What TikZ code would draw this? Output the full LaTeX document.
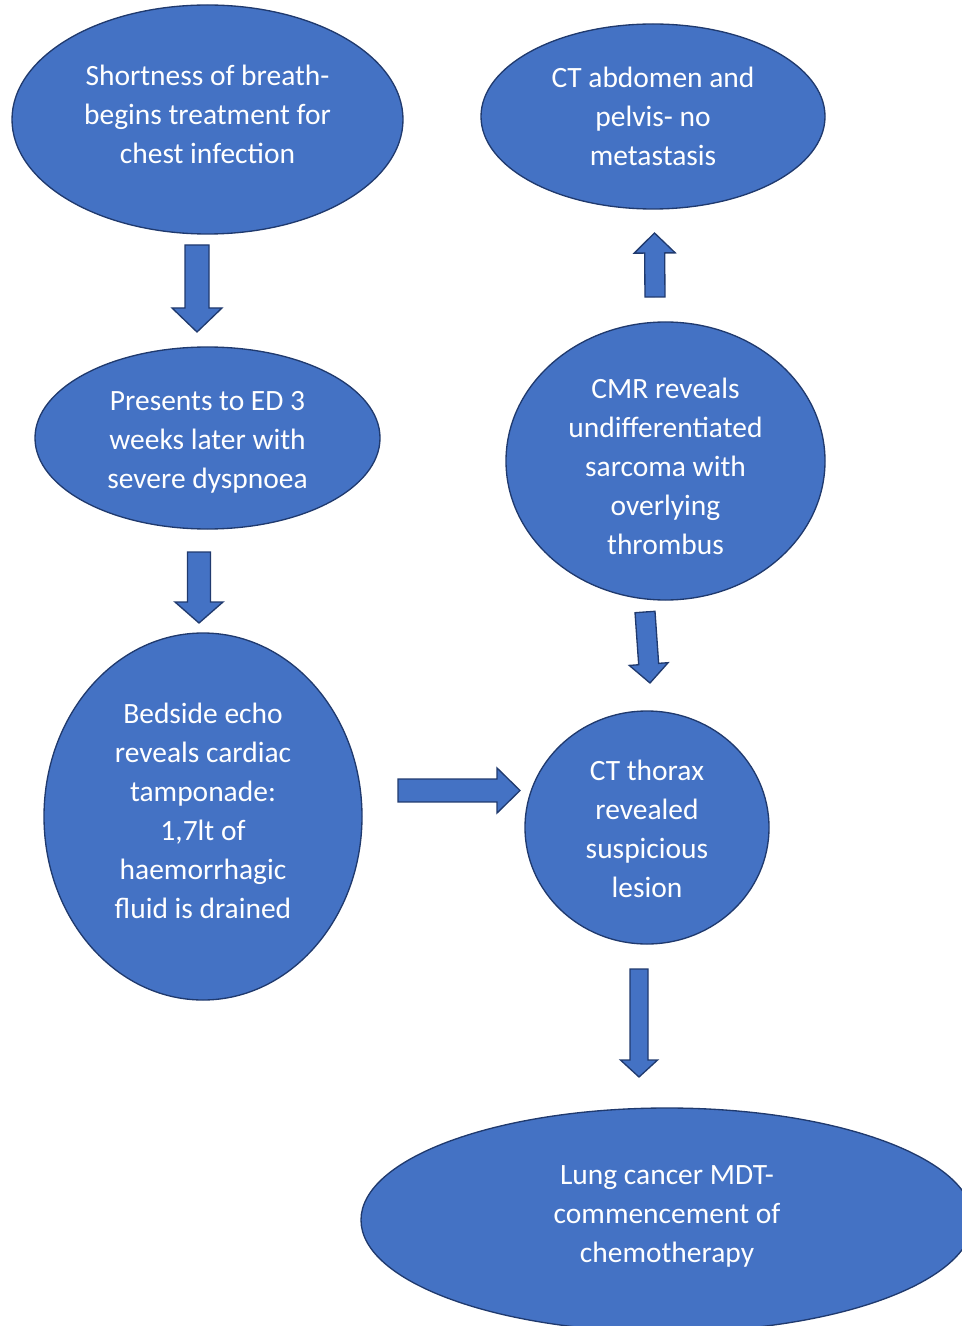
\documentclass[tikz,border=0pt]{standalone}
\usepackage{fontspec}
\setmainfont{Carlito}
\usetikzlibrary{shapes.geometric}
\usetikzlibrary{calc}

\definecolor{boxblue}{HTML}{4472C4}
\definecolor{boxline}{HTML}{203A6E}

\tikzset{
  step box/.style={draw=boxline, fill=boxblue, ellipse, line width=1pt, inner sep=0pt},
  step text/.style={text=white, align=center, inner sep=0pt,
    font=\fontsize{22.1}{29.25}\selectfont},
  arrowbox/.style={draw=boxline, fill=boxblue, line width=1pt, line join=miter}
}

% block arrow: from, to, shaft half width, head half width, head length
\newcommand{\flowarrow}[5]{%
  \coordinate (hb) at ($(#2)!#5!(#1)$);
  \filldraw[arrowbox] ($(#1)!#3!90:(#2)$) -- ($(hb)!#3!90:(#2)$) -- ($(hb)!#4!90:(#2)$)
    -- (#2) -- ($(hb)!#4!-90:(#2)$) -- ($(hb)!#3!-90:(#2)$) -- ($(#1)!#3!-90:(#2)$) -- cycle;
}

\begin{document}
\begin{tikzpicture}[x=0.75pt, y=-0.75pt]

        \useasboundingbox (0,0) rectangle (962,1326);

        % left column
        \node[step box, minimum width=293.25pt, minimum height=171.75pt,
          label={[step text, yshift=4.1pt]center:{Shortness of breath-\\begins treatment for\\chest infection}}]
          (sob) at (207.5,119.5) {};
        \node[step box, minimum width=258.75pt, minimum height=136.5pt,
          label={[step text, yshift=-3pt]center:{Presents to ED 3\\weeks later with\\severe dyspnoea}}]
          (ed) at (207.5,438) {};
        \node[step box, minimum width=238.5pt, minimum height=275.25pt,
          label={[step text, yshift=4.5pt]center:{Bedside echo\\reveals cardiac\\tamponade:\\1,7lt of\\haemorrhagic\\fluid is drained}}]
          (echo) at (203,816.5) {};

        % right column
        \node[step box, minimum width=258pt, minimum height=138.75pt,
          label={[step text]center:{CT abdomen and\\pelvis- no\\metastasis}}]
          (ctap) at (653,116.5) {};
        \node[step box, minimum width=239.25pt, minimum height=208.5pt,
          label={[step text, yshift=-4.1pt]center:{CMR reveals\\undifferentiated\\sarcoma with\\overlying\\thrombus}}]
          (cmr) at (665.5,461) {};
        \node[step box, minimum width=183pt, minimum height=174.75pt,
          label={[step text, yshift=-0.75pt]center:{CT thorax\\revealed\\suspicious\\lesion}}]
          (ctt) at (647,827.5) {};
        \node[step box, minimum width=459pt, minimum height=168pt,
          label={[step text, yshift=3pt]center:{Lung cancer MDT-\\commencement of\\chemotherapy}}]
          (mdt) at (667,1220) {};

        % arrow ends
        \coordinate (sob-out) at (197,245);
        \coordinate (ed-in) at (197,332);
        \coordinate (ed-out) at (199,552);
        \coordinate (echo-in) at (199,623);
        \coordinate (echo-out) at (398,790.5);
        \coordinate (ctt-in) at (520,790.5);
        \coordinate (cmr-out) at (645,612);
        \coordinate (ctt-in2) at (650,683);
        \coordinate (cmr-up) at (655,297);
        \coordinate (ctap-in) at (654.5,233);
        \coordinate (ctt-out) at (639,969);
        \coordinate (mdt-in) at (639,1077);

        \flowarrow{sob-out}{ed-in}{9pt}{18.75pt}{18pt}
        \flowarrow{ed-out}{echo-in}{8.6pt}{18pt}{15.75pt}
        \flowarrow{echo-out}{ctt-in}{8.6pt}{16.9pt}{17.25pt}
        \flowarrow{cmr-out}{ctt-in2}{7.5pt}{14.6pt}{14.25pt}
        \flowarrow{cmr-up}{ctap-in}{7.5pt}{15.4pt}{15pt}
        \flowarrow{ctt-out}{mdt-in}{6.75pt}{13.9pt}{12.75pt}

\end{tikzpicture}
\end{document}
